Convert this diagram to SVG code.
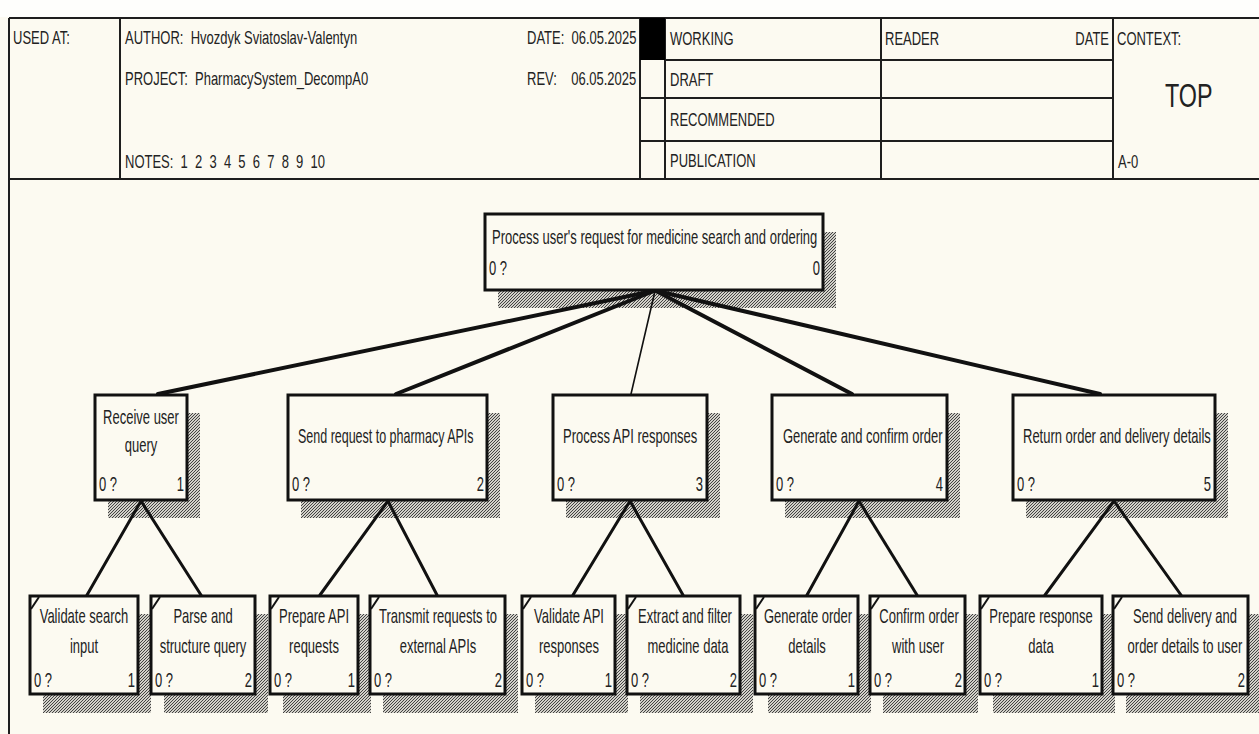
<svg xmlns="http://www.w3.org/2000/svg" width="1259" height="734" viewBox="0 0 1259 734">
  <defs>
    <pattern id="hatch" patternUnits="userSpaceOnUse" width="3" height="3">
      <rect width="3" height="3" fill="#d2d0c9"/>
      <path d="M-1,1 L1,-1 M0,3 L3,0 M2,4 L4,2" stroke="#333" stroke-width="0.9"/>
    </pattern>
  </defs>
  <style>
    .t { font-family: "Liberation Sans", Arial, sans-serif; fill: #222; white-space: pre; }
    .h { font-size: 18px; }
    .n { font-size: 20px; }
    .m { text-anchor: middle; }
    .e { text-anchor: end; }
    .frame { stroke: #1e1e1e; stroke-width: 2; fill: none; }
    .box { fill: #fcfaf1; stroke: #111; stroke-width: 3; }
    .shadow { fill: url(#hatch); }
    .mark { stroke: #111; stroke-width: 2; }
    .c { stroke: #111; fill: none; stroke-linecap: round; }
  </style>

  <!-- paper -->
  <rect x="0" y="0" width="1259" height="734" fill="#fcfaf1"/>
  <rect x="0" y="0" width="1259" height="17" fill="#fefefc"/>

  <!-- title block (text is narrowed horizontally: 18px glyphs at 13px widths) -->
  <g id="header">
    <line class="frame" x1="9" y1="18" x2="1259" y2="18"/>
    <line class="frame" x1="9" y1="179" x2="1259" y2="179"/>
    <line class="frame" x1="9" y1="18" x2="9" y2="734"/>
    <line class="frame" x1="120" y1="18" x2="120" y2="179"/>
    <line class="frame" x1="640" y1="18" x2="640" y2="179"/>
    <line class="frame" x1="665" y1="18" x2="665" y2="179"/>
    <line class="frame" x1="881" y1="18" x2="881" y2="179"/>
    <line class="frame" x1="1113" y1="18" x2="1113" y2="179"/>
    <line class="frame" x1="665" y1="60" x2="1113" y2="60"/>
    <line class="frame" x1="640" y1="98" x2="1113" y2="98"/>
    <line class="frame" x1="640" y1="141" x2="1113" y2="141"/>
    <rect x="640" y="18" width="25" height="42" fill="#000"/>

    <text class="t h" transform="translate(13 44) scale(0.722 1)">USED AT:</text>
    <text class="t h" xml:space="preserve" transform="translate(125 44) scale(0.722 1)">AUTHOR:  Hvozdyk Sviatoslav-Valentyn</text>
    <text class="t h" xml:space="preserve" transform="translate(125 85) scale(0.722 1)">PROJECT:  PharmacySystem_DecompA0</text>
    <text class="t h" xml:space="preserve" transform="translate(125 168) scale(0.722 1)">NOTES:  1  2  3  4  5  6  7  8  9  10</text>

    <text class="t h" xml:space="preserve" transform="translate(527 44) scale(0.722 1)">DATE:  06.05.2025</text>
    <text class="t h" xml:space="preserve" transform="translate(527 85) scale(0.722 1)">REV:    06.05.2025</text>

    <text class="t h" transform="translate(670 45) scale(0.722 1)">WORKING</text>
    <text class="t h" transform="translate(670 86) scale(0.722 1)">DRAFT</text>
    <text class="t h" transform="translate(670 126) scale(0.722 1)">RECOMMENDED</text>
    <text class="t h" transform="translate(670 167) scale(0.722 1)">PUBLICATION</text>

    <text class="t h" transform="translate(885 45) scale(0.722 1)">READER</text>
    <text class="t h e" transform="translate(1109 45) scale(0.722 1)">DATE</text>
    <text class="t h" transform="translate(1117 45) scale(0.722 1)">CONTEXT:</text>
    <text class="t" font-size="34" transform="translate(1165 107) scale(0.686 1)">TOP</text>
    <text class="t h" transform="translate(1118 168) scale(0.722 1)">A-0</text>
  </g>

  <!-- A-0 parent activity -->
  <g id="node-0">
    <rect class="shadow" x="498" y="232" width="338" height="76"/>
    <rect class="box" x="485" y="214" width="338" height="76"/>
    <text class="t n" transform="translate(492 244) scale(0.65 1)">Process user's request for medicine search and ordering</text>
    <text class="t n" transform="translate(489 275) scale(0.65 1)">0 ?</text>
    <text class="t n e" transform="translate(820 275) scale(0.65 1)">0</text>
  </g>

  <!-- first level -->
  <g id="node-1">
    <rect class="shadow" x="108" y="413" width="92" height="105"/>
    <rect class="box" x="95" y="395" width="92" height="105"/>
    <text class="t n m" transform="translate(141 424) scale(0.65 1)">Receive user</text>
    <text class="t n m" transform="translate(141 452) scale(0.65 1)">query</text>
    <text class="t n" transform="translate(99 491) scale(0.65 1)">0 ?</text>
    <text class="t n e" transform="translate(184 491) scale(0.65 1)">1</text>
  </g>
  <g id="node-2">
    <rect class="shadow" x="301" y="413" width="199" height="105"/>
    <rect class="box" x="288" y="395" width="199" height="105"/>
    <text class="t n" transform="translate(298 443) scale(0.625 1)">Send request to pharmacy APIs</text>
    <text class="t n" transform="translate(292 491) scale(0.65 1)">0 ?</text>
    <text class="t n e" transform="translate(484 491) scale(0.65 1)">2</text>
  </g>
  <g id="node-3">
    <rect class="shadow" x="566" y="413" width="154" height="105"/>
    <rect class="box" x="553" y="395" width="154" height="105"/>
    <text class="t n" transform="translate(563 443) scale(0.65 1)">Process API responses</text>
    <text class="t n" transform="translate(557 491) scale(0.65 1)">0 ?</text>
    <text class="t n e" transform="translate(703 491) scale(0.65 1)">3</text>
  </g>
  <g id="node-4">
    <rect class="shadow" x="785" y="413" width="175" height="105"/>
    <rect class="box" x="772" y="395" width="175" height="105"/>
    <text class="t n" transform="translate(783 443) scale(0.65 1)">Generate and confirm order</text>
    <text class="t n" transform="translate(776 491) scale(0.65 1)">0 ?</text>
    <text class="t n e" transform="translate(943 491) scale(0.65 1)">4</text>
  </g>
  <g id="node-5">
    <rect class="shadow" x="1026" y="413" width="202" height="105"/>
    <rect class="box" x="1013" y="395" width="202" height="105"/>
    <text class="t n" transform="translate(1023 443) scale(0.65 1)">Return order and delivery details</text>
    <text class="t n" transform="translate(1017 491) scale(0.65 1)">0 ?</text>
    <text class="t n e" transform="translate(1211 491) scale(0.65 1)">5</text>
  </g>

  <!-- second level -->
  <g id="node-1-1">
    <rect class="shadow" x="43" y="614" width="108" height="99"/>
    <rect class="box" x="30" y="596" width="108" height="98"/>
    <line class="mark" x1="31" y1="609" x2="39" y2="597"/>
    <text class="t n m" transform="translate(84 623) scale(0.65 1)">Validate search</text>
    <text class="t n m" transform="translate(84 653) scale(0.65 1)">input</text>
    <text class="t n" transform="translate(34 687) scale(0.65 1)">0 ?</text>
    <text class="t n e" transform="translate(135 687) scale(0.65 1)">1</text>
  </g>
  <g id="node-1-2">
    <rect class="shadow" x="164" y="614" width="104" height="99"/>
    <rect class="box" x="151" y="596" width="104" height="98"/>
    <line class="mark" x1="152" y1="609" x2="160" y2="597"/>
    <text class="t n m" transform="translate(203 623) scale(0.65 1)">Parse and</text>
    <text class="t n m" transform="translate(203 653) scale(0.65 1)">structure query</text>
    <text class="t n" transform="translate(155 687) scale(0.65 1)">0 ?</text>
    <text class="t n e" transform="translate(252 687) scale(0.65 1)">2</text>
  </g>
  <g id="node-2-1">
    <rect class="shadow" x="283" y="614" width="88" height="99"/>
    <rect class="box" x="270" y="596" width="88" height="98"/>
    <line class="mark" x1="271" y1="609" x2="279" y2="597"/>
    <text class="t n m" transform="translate(314 623) scale(0.65 1)">Prepare API</text>
    <text class="t n m" transform="translate(314 653) scale(0.65 1)">requests</text>
    <text class="t n" transform="translate(274 687) scale(0.65 1)">0 ?</text>
    <text class="t n e" transform="translate(355 687) scale(0.65 1)">1</text>
  </g>
  <g id="node-2-2">
    <rect class="shadow" x="383" y="614" width="135" height="99"/>
    <rect class="box" x="370" y="596" width="135" height="98"/>
    <line class="mark" x1="371" y1="609" x2="379" y2="597"/>
    <text class="t n m" transform="translate(438 623) scale(0.65 1)">Transmit requests to</text>
    <text class="t n m" transform="translate(438 653) scale(0.65 1)">external APIs</text>
    <text class="t n" transform="translate(374 687) scale(0.65 1)">0 ?</text>
    <text class="t n e" transform="translate(502 687) scale(0.65 1)">2</text>
  </g>
  <g id="node-3-1">
    <rect class="shadow" x="535" y="614" width="93" height="99"/>
    <rect class="box" x="522" y="596" width="93" height="98"/>
    <line class="mark" x1="523" y1="609" x2="531" y2="597"/>
    <text class="t n m" transform="translate(569 623) scale(0.65 1)">Validate API</text>
    <text class="t n m" transform="translate(569 653) scale(0.65 1)">responses</text>
    <text class="t n" transform="translate(526 687) scale(0.65 1)">0 ?</text>
    <text class="t n e" transform="translate(612 687) scale(0.65 1)">1</text>
  </g>
  <g id="node-3-2">
    <rect class="shadow" x="640" y="614" width="113" height="99"/>
    <rect class="box" x="627" y="596" width="113" height="98"/>
    <line class="mark" x1="628" y1="609" x2="636" y2="597"/>
    <text class="t n m" transform="translate(685 623) scale(0.65 1)">Extract and filter</text>
    <text class="t n m" transform="translate(688 653) scale(0.65 1)">medicine data</text>
    <text class="t n" transform="translate(631 687) scale(0.65 1)">0 ?</text>
    <text class="t n e" transform="translate(737 687) scale(0.65 1)">2</text>
  </g>
  <g id="node-4-1">
    <rect class="shadow" x="768" y="614" width="103" height="99"/>
    <rect class="box" x="755" y="596" width="103" height="98"/>
    <line class="mark" x1="756" y1="609" x2="764" y2="597"/>
    <text class="t n m" transform="translate(808 623) scale(0.65 1)">Generate order</text>
    <text class="t n m" transform="translate(807 653) scale(0.65 1)">details</text>
    <text class="t n" transform="translate(759 687) scale(0.65 1)">0 ?</text>
    <text class="t n e" transform="translate(855 687) scale(0.65 1)">1</text>
  </g>
  <g id="node-4-2">
    <rect class="shadow" x="883" y="614" width="95" height="99"/>
    <rect class="box" x="870" y="596" width="95" height="98"/>
    <line class="mark" x1="871" y1="609" x2="879" y2="597"/>
    <text class="t n m" transform="translate(919 623) scale(0.65 1)">Confirm order</text>
    <text class="t n m" transform="translate(918 653) scale(0.65 1)">with user</text>
    <text class="t n" transform="translate(874 687) scale(0.65 1)">0 ?</text>
    <text class="t n e" transform="translate(962 687) scale(0.65 1)">2</text>
  </g>
  <g id="node-5-1">
    <rect class="shadow" x="993" y="614" width="122" height="99"/>
    <rect class="box" x="980" y="596" width="122" height="98"/>
    <line class="mark" x1="981" y1="609" x2="989" y2="597"/>
    <text class="t n m" transform="translate(1041 623) scale(0.65 1)">Prepare response</text>
    <text class="t n m" transform="translate(1041 653) scale(0.65 1)">data</text>
    <text class="t n" transform="translate(984 687) scale(0.65 1)">0 ?</text>
    <text class="t n e" transform="translate(1099 687) scale(0.65 1)">1</text>
  </g>
  <g id="node-5-2">
    <rect class="shadow" x="1126" y="614" width="133" height="99"/>
    <rect class="box" x="1113" y="596" width="135" height="98"/>
    <line class="mark" x1="1114" y1="609" x2="1122" y2="597"/>
    <text class="t n m" transform="translate(1185 623) scale(0.65 1)">Send delivery and</text>
    <text class="t n m" transform="translate(1185 653) scale(0.65 1)">order details to user</text>
    <text class="t n" transform="translate(1117 687) scale(0.65 1)">0 ?</text>
    <text class="t n e" transform="translate(1245 687) scale(0.65 1)">2</text>
  </g>

  <!-- decomposition links -->
  <g id="connectors">
    <line class="c" stroke-width="4" x1="653" y1="291" x2="158" y2="394"/>
    <line class="c" stroke-width="4" x1="654" y1="291" x2="396" y2="394"/>
    <line class="c" stroke-width="1.6" x1="655" y1="291" x2="631" y2="394"/>
    <line class="c" stroke-width="4" x1="656" y1="291" x2="852" y2="394"/>
    <line class="c" stroke-width="4" x1="657" y1="291" x2="1100" y2="394"/>

    <line class="c" stroke-width="3" x1="141" y1="501" x2="87" y2="595"/>
    <line class="c" stroke-width="3" x1="141" y1="501" x2="201" y2="595"/>
    <line class="c" stroke-width="3" x1="388" y1="501" x2="320" y2="595"/>
    <line class="c" stroke-width="3" x1="388" y1="501" x2="437" y2="595"/>
    <line class="c" stroke-width="3" x1="630" y1="501" x2="573" y2="595"/>
    <line class="c" stroke-width="3" x1="630" y1="501" x2="683" y2="595"/>
    <line class="c" stroke-width="3" x1="859" y1="501" x2="807" y2="595"/>
    <line class="c" stroke-width="3" x1="859" y1="501" x2="917" y2="595"/>
    <line class="c" stroke-width="3" x1="1114" y1="501" x2="1045" y2="595"/>
    <line class="c" stroke-width="3" x1="1114" y1="501" x2="1181" y2="595"/>
  </g>
</svg>
